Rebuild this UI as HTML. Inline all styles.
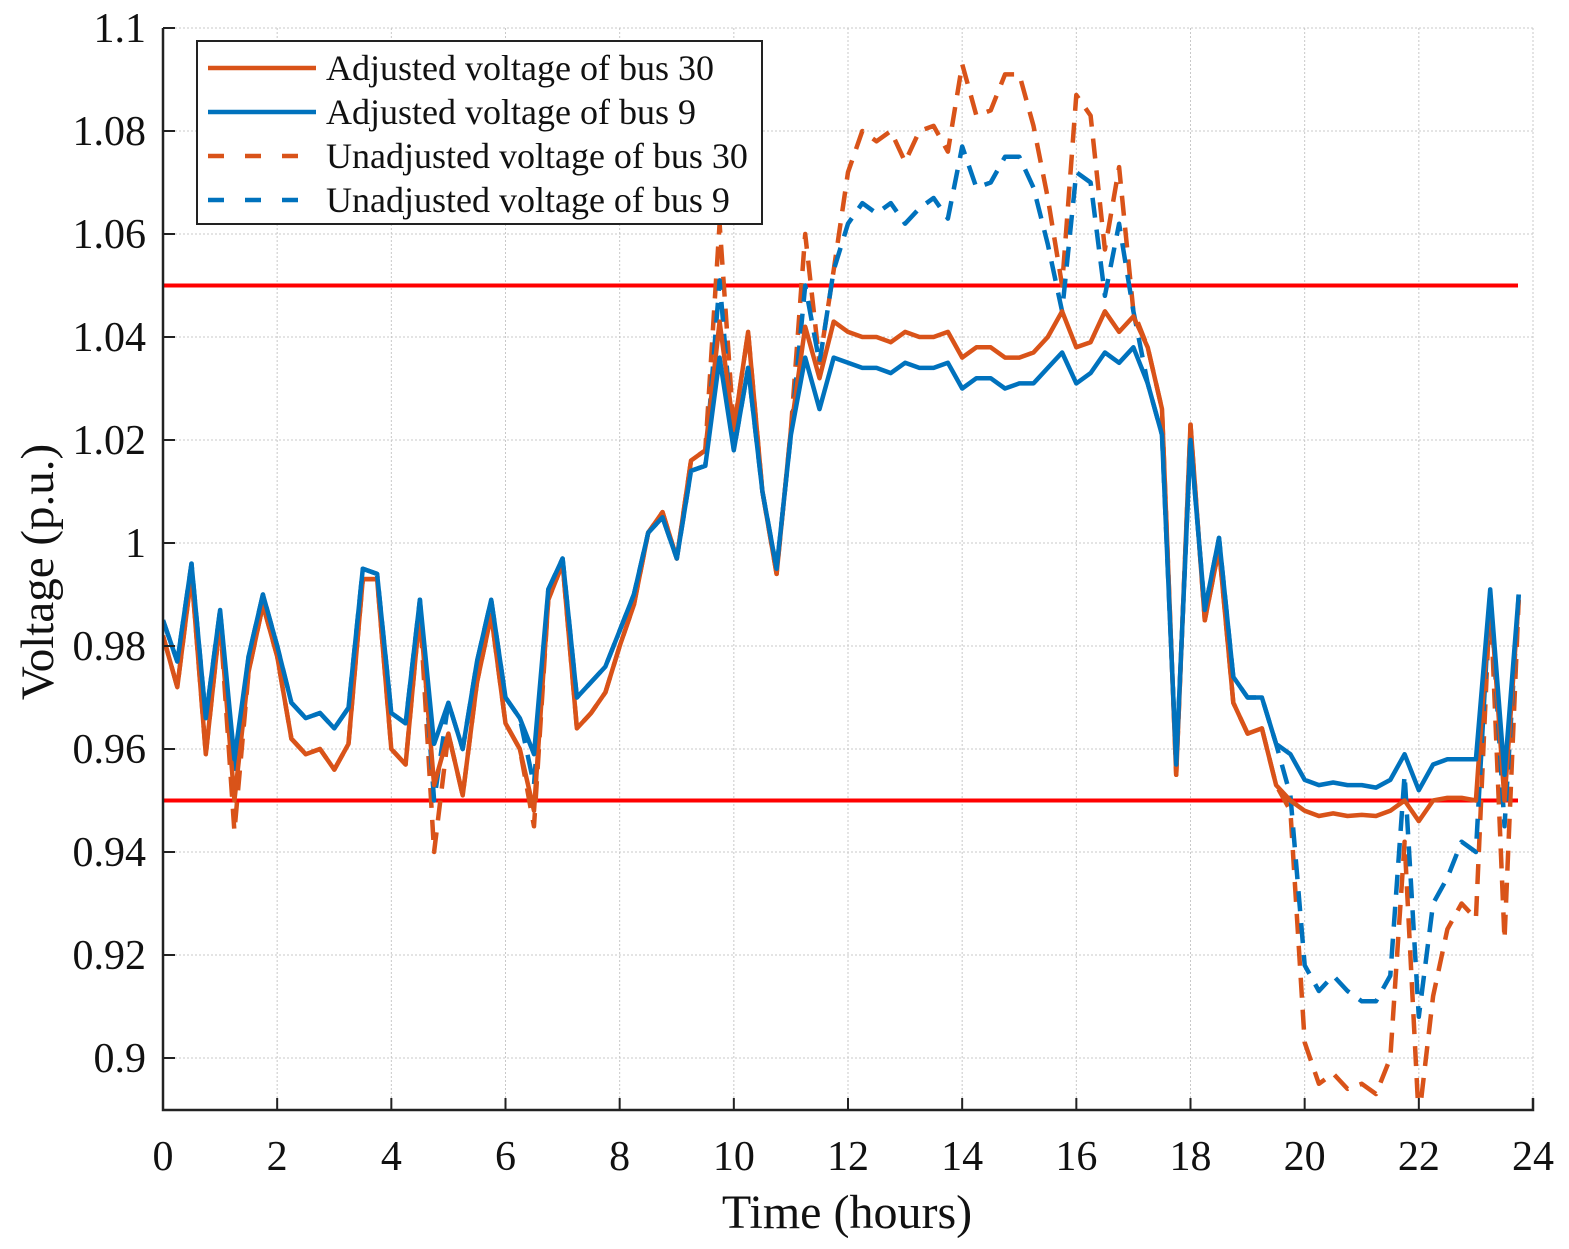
<!DOCTYPE html>
<html><head><meta charset="utf-8">
<style>
html,body{margin:0;padding:0;background:#fff;}
svg{display:block;font-family:"Liberation Serif",serif;}
</style></head>
<body>
<svg id="chart" width="1569" height="1249" viewBox="0 0 1569 1249" xmlns="http://www.w3.org/2000/svg">
<defs><clipPath id="plotclip"><rect x="163" y="28" width="1370" height="1082"/></clipPath></defs>
<g id="grid"></g>
<g id="limits"></g>
<g id="series" clip-path="url(#plotclip)"></g>
<g id="axes"></g>
<text x="847" y="1228" font-size="48" text-anchor="middle" fill="#111">Time (hours)</text>
<text x="0" y="0" font-size="47" text-anchor="middle" fill="#111" transform="translate(53,572) rotate(-90)">Voltage (p.u.)</text>
<g>
<rect x="197" y="41" width="565" height="183" fill="#fff" stroke="#222" stroke-width="2"/>
<g><line x1="208" y1="68" x2="316" y2="68" stroke="#D95319" stroke-width="4.5"/><text x="326" y="80" font-size="36" fill="#111">Adjusted voltage of bus 30</text></g>
<g><line x1="208" y1="112" x2="316" y2="112" stroke="#0072BD" stroke-width="4.5"/><text x="326" y="124" font-size="36" fill="#111">Adjusted voltage of bus 9</text></g>
<g><line x1="208" y1="156" x2="316" y2="156" stroke="#D95319" stroke-width="4.5" stroke-dasharray="16,21"/><text x="326" y="168" font-size="36" fill="#111">Unadjusted voltage of bus 30</text></g>
<g><line x1="208" y1="200" x2="316" y2="200" stroke="#0072BD" stroke-width="4.5" stroke-dasharray="16,21"/><text x="326" y="212" font-size="36" fill="#111">Unadjusted voltage of bus 9</text></g>
</g>
</svg>
<script>
const xTicks = [0,2,4,6,8,10,12,14,16,18,20,22,24];
const yTicks = [0.9,0.92,0.94,0.96,0.98,1,1.02,1.04,1.06,1.08,1.1];
const yTickLabels = ["0.9","0.92","0.94","0.96","0.98","1","1.02","1.04","1.06","1.08","1.1"];
const limitValues = [1.05, 0.95];
const adjusted30 = [
0.982,0.972,0.994,0.959,0.985,0.950,0.975,0.988,
0.978,0.962,0.959,0.960,0.956,0.961,0.993,0.993,
0.960,0.957,0.987,0.953,0.963,0.951,0.973,0.986,
0.965,0.960,0.948,0.989,0.996,0.964,0.967,0.971,
0.980,0.988,1.002,1.006,0.997,1.016,1.018,1.043,
1.022,1.041,1.010,0.994,1.022,1.042,1.032,1.043,
1.041,1.040,1.040,1.039,1.041,1.040,1.040,1.041,
1.036,1.038,1.038,1.036,1.036,1.037,1.040,1.045,
1.038,1.039,1.045,1.041,1.044,1.038,1.026,0.955,
1.023,0.985,0.999,0.969,0.963,0.964,0.953,0.950,
0.948,0.947,0.9475,0.947,0.9472,0.947,0.948,0.950,
0.946,0.950,0.9505,0.9505,0.950,0.990,0.950,0.989];
const adjusted9 = [
0.985,0.977,0.996,0.966,0.987,0.958,0.978,0.990,
0.980,0.969,0.966,0.967,0.964,0.968,0.995,0.994,
0.967,0.965,0.989,0.961,0.969,0.960,0.977,0.989,
0.970,0.966,0.959,0.991,0.997,0.970,0.973,0.976,
0.983,0.990,1.002,1.005,0.997,1.014,1.015,1.036,
1.018,1.034,1.010,0.995,1.021,1.036,1.026,1.036,
1.035,1.034,1.034,1.033,1.035,1.034,1.034,1.035,
1.030,1.032,1.032,1.030,1.031,1.031,1.034,1.037,
1.031,1.033,1.037,1.035,1.038,1.031,1.021,0.957,
1.020,0.987,1.001,0.974,0.970,0.970,0.961,0.959,
0.954,0.953,0.9535,0.953,0.953,0.9525,0.954,0.959,
0.952,0.957,0.958,0.958,0.958,0.991,0.955,0.990];
const unadjusted30 = [
0.982,0.972,0.994,0.959,0.985,0.944,0.975,0.988,
0.978,0.962,0.959,0.960,0.956,0.961,0.993,0.993,
0.960,0.957,0.987,0.940,0.963,0.951,0.973,0.986,
0.965,0.960,0.945,0.989,0.996,0.964,0.967,0.971,
0.980,0.988,1.002,1.006,0.997,1.016,1.018,1.062,
1.022,1.041,1.010,0.994,1.022,1.060,1.035,1.053,
1.072,1.080,1.078,1.080,1.074,1.080,1.081,1.076,
1.093,1.083,1.084,1.091,1.091,1.081,1.067,1.050,
1.087,1.083,1.057,1.073,1.045,1.038,1.026,0.955,
1.023,0.985,0.999,0.969,0.963,0.964,0.953,0.948,
0.903,0.895,0.897,0.894,0.895,0.893,0.900,0.942,
0.888,0.912,0.925,0.930,0.927,0.990,0.923,0.989];
const unadjusted9 = [
0.985,0.977,0.996,0.966,0.987,0.955,0.978,0.990,
0.980,0.969,0.966,0.967,0.964,0.968,0.995,0.994,
0.967,0.965,0.989,0.950,0.969,0.960,0.977,0.989,
0.970,0.966,0.953,0.991,0.997,0.970,0.973,0.976,
0.983,0.990,1.002,1.005,0.997,1.014,1.015,1.051,
1.018,1.034,1.010,0.995,1.021,1.050,1.035,1.053,
1.062,1.066,1.064,1.066,1.062,1.065,1.067,1.063,
1.077,1.069,1.070,1.075,1.075,1.069,1.058,1.045,
1.072,1.070,1.048,1.062,1.045,1.031,1.021,0.957,
1.020,0.987,1.001,0.974,0.970,0.970,0.961,0.951,
0.918,0.913,0.916,0.913,0.911,0.911,0.916,0.955,
0.908,0.930,0.935,0.942,0.940,0.991,0.945,0.990];

const NS="http://www.w3.org/2000/svg";
const X0=163,X1=1533,Y0=1110,YT=28;
function xs(t){return X0+(t/24)*(X1-X0);}
function ys(v){return 1058+(0.9-v)*(1058-28)/0.2;}
function mk(tag,attrs,parent){const e=document.createElementNS(NS,tag);for(const k in attrs)e.setAttribute(k,attrs[k]);parent.appendChild(e);return e;}
const grid=document.getElementById('grid'),axes=document.getElementById('axes'),series=document.getElementById('series'),limits=document.getElementById('limits');
xTicks.forEach(t=>{
  const g=mk('line',{x1:xs(t),x2:xs(t),y1:YT,y2:Y0,stroke:'#c8c8c8','stroke-width':1,'stroke-dasharray':'2,2'},grid);
  
  
  const tk=mk('line',{x1:xs(t),x2:xs(t),y1:Y0,y2:Y0-12,stroke:'#222','stroke-width':2},axes);
  
  
  const lb=mk('text',{x:xs(t),y:1170,'font-size':42,'text-anchor':'middle',fill:'#111'},axes);
  lb.textContent=String(t);
  
  
});
yTicks.forEach((v,i)=>{
  const g=mk('line',{x1:X0,x2:X1,y1:ys(v),y2:ys(v),stroke:'#c8c8c8','stroke-width':1,'stroke-dasharray':'2,2'},grid);
  
  
  const tk=mk('line',{x1:X0,x2:X0+12,y1:ys(v),y2:ys(v),stroke:'#222','stroke-width':2},axes);
  
  
  const lb=mk('text',{x:146,y:ys(v)+14,'font-size':42,'text-anchor':'end',fill:'#111'},axes);
  lb.textContent=yTickLabels[i];
  
  
});
limitValues.forEach(v=>{
  const l=mk('line',{x1:X0,x2:1518,y1:ys(v),y2:ys(v),stroke:'#ff0000','stroke-width':4},limits);
  
  
});
const ax=mk('path',{d:`M${X0},${YT} L${X0},${Y0} L${X1},${Y0} L${X1},${Y0-12}`,fill:'none',stroke:'#222','stroke-width':2.5},axes);


function drawLine(data,color,dash,name){
  const d=data.map((v,i)=>(i?'L':'M')+xs(i*0.25).toFixed(1)+','+ys(v).toFixed(1)).join(' ');
  const attrs={d:d,fill:'none',stroke:color,'stroke-width':4.5,'stroke-linejoin':'round'};
  if(dash)attrs['stroke-dasharray']=dash;
  const p=mk('path',attrs,series);
  
  
}
drawLine(unadjusted30,'#D95319','20,12','unadjusted-bus-30-line');
drawLine(unadjusted9,'#0072BD','20,12','unadjusted-bus-9-line');
drawLine(adjusted30,'#D95319',null,'adjusted-bus-30-line');
drawLine(adjusted9,'#0072BD',null,'adjusted-bus-9-line');
</script>
</body></html>
